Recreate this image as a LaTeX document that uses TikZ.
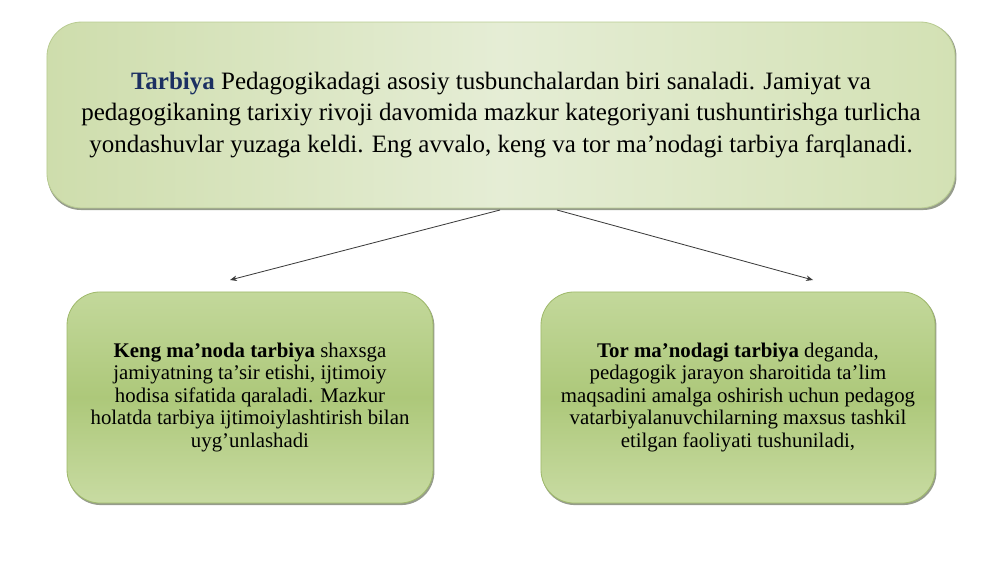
\documentclass[tikz,border=0pt]{standalone}
\usepackage{fontspec}
\setmainfont{Liberation Serif}
\usetikzlibrary{arrows.meta}
\usetikzlibrary{backgrounds}
\definecolor{tarbiyaBlue}{RGB}{28,48,98}
\definecolor{topLeft}{RGB}{206,221,172}
\definecolor{topMid}{RGB}{229,237,213}
\definecolor{topRight}{RGB}{211,225,180}
\definecolor{topEdge}{RGB}{185,204,146}
\definecolor{boxEdge}{RGB}{160,186,108}
\definecolor{boxTop}{RGB}{195,216,155}
\definecolor{boxMid}{RGB}{173,200,122}
\definecolor{boxBottom}{RGB}{200,219,162}
\definecolor{shadowGray}{RGB}{150,156,140}
\definecolor{arrowGray}{RGB}{60,60,60}

\begin{document}
\begin{tikzpicture}[x = 0.72pt, y = -0.72pt]
	\tikzstyle{mainStyle} = [draw = topEdge, line width = 0.6pt, rounded corners = 25pt, left color = topLeft, right color = topRight, middle color = topMid, minimum width = 653.8pt, minimum height = 133.9pt, align = center, font = \fontsize{18}{22.4}\selectfont]
	\tikzstyle{sideStyle} = [draw = boxEdge, line width = 0.6pt, rounded corners = 24pt, top color = boxTop, bottom color = boxBottom, middle color = boxMid, minimum height = 152pt, align = center, font = \fontsize{15}{16.2}\selectfont]
	\tikzstyle{shadowStyle} = [fill = shadowGray, rounded corners = 24pt]
	\tikzstyle{arrowStyle} = [draw = arrowGray, line width = 0.6pt, -{Stealth[length = 5pt, width = 4pt]}]
	\useasboundingbox (0,0) rectangle (1000,562);
	\node[mainStyle] (tarbiya) at (501,115) {{\bfseries\color{tarbiyaBlue}Tarbiya} Pedagogikadagi asosiy tusbunchalardan biri sanaladi. Jamiyat va\\ pedagogikaning tarixiy rivoji davomida mazkur kategoriyani tushuntirishga turlicha\\ yondashuvlar yuzaga keldi. Eng avvalo, keng va tor ma’nodagi tarbiya farqlanadi.};
	\node[sideStyle, minimum width = 263.5pt] (keng) at (250,397.5) {\textbf{Keng ma’noda tarbiya} shaxsga\\ jamiyatning ta’sir etishi, ijtimoiy\\ hodisa sifatida qaraladi. Mazkur\\ holatda tarbiya ijtimoiylashtirish bilan\\ uyg’unlashadi};
	\node[sideStyle, minimum width = 283.7pt] (tor) at (738,397.5) {\textbf{Tor ma’nodagi tarbiya} deganda,\\ pedagogik jarayon sharoitida ta’lim\\ maqsadini amalga oshirish uchun pedagog\\ vatarbiyalanuvchilarning maxsus tashkil\\ etilgan faoliyati tushuniladi,};
	% soft shadows under the boxes
	\begin{scope}[on background layer]
		\foreach \card in {tarbiya, keng, tor}
			\path[shadowStyle] ([shift = {(1,1.6)}]\card.north west) rectangle ([shift = {(1,1.6)}]\card.south east);
	\end{scope}
	\coordinate (kengFrom) at (500,210);
	\coordinate (kengTo) at (230,280);
	\coordinate (torFrom) at (557,210);
	\coordinate (torTo) at (813,280);
	\draw[arrowStyle] (kengFrom) -- (kengTo);
	\draw[arrowStyle] (torFrom) -- (torTo);
\end{tikzpicture}
\end{document}
